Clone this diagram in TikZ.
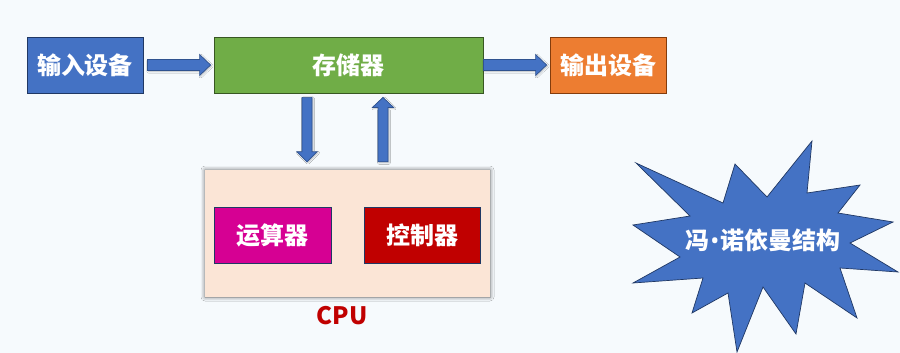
\documentclass[tikz,border=0pt]{standalone}
\usepackage{fontspec}
\setmainfont{Noto Sans CJK SC}
\newfontfamily\latinfont{Noto Sans}
\usetikzlibrary{calc,shadows.blur}
\definecolor{bgc}{RGB}{246,250,253}
\definecolor{pblue}{RGB}{68,114,196}
\definecolor{pblueD}{RGB}{47,82,143}
\definecolor{navy}{RGB}{32,56,100}
\definecolor{pgreen}{RGB}{112,173,71}
\definecolor{pgreenD}{RGB}{56,87,35}
\definecolor{porange}{RGB}{237,125,49}
\definecolor{porangeD}{RGB}{132,60,12}
\definecolor{peach}{RGB}{251,229,214}
\definecolor{pmag}{RGB}{214,0,147}
\definecolor{pred}{RGB}{192,0,0}
\tikzset{
  box/.style={draw, line width=0.8pt, minimum width=#1, minimum height=56pt, inner sep=0pt,
    text=white, font=\fontsize{24}{28}\selectfont\bfseries},
  barrow/.style={fill=pblue, draw=pblueD, line width=0.7pt,
    blur shadow={shadow xshift=1pt, shadow yshift=-1pt, shadow blur radius=1.5pt, shadow opacity=25}},
}
\begin{document}
\begin{tikzpicture}[x=1pt,y=-1pt]
\fill[bgc] (0,0) rectangle (900,353);
\useasboundingbox (0,0) rectangle (900,353);

\node[box=116pt, fill=pblue, draw=navy] (in) at (85,65) {输入设备};
\node[box=269pt, fill=pgreen, draw=pgreenD] (mem) at (348.5,65) {存储器};
\node[box=116pt, fill=porange, draw=porangeD] (out) at (608,65) {输出设备};

\node[fill=peach, minimum width=285pt, minimum height=127pt, inner sep=0pt,
  blur shadow={shadow xshift=0pt, shadow yshift=0pt, shadow blur radius=4pt, shadow opacity=60}] (cpu) at (347.5,233.5) {};
\node[box=117pt, fill=pmag, draw=navy] (alu) at (272.5,235) {运算器};
\node[box=116pt, fill=pred, draw=navy] (ctl) at (422,235) {控制器};
\node[text=pred, font=\fontsize{24}{28}\selectfont\bfseries] (cpulabel) at (342,316) {CPU};

% horizontal block arrows
\draw[barrow] let \p1=($(in.east)+(4,0)$), \p2=($(mem.west)+(-3,0)$) in
  (\x1,\y1+5.5pt) -- (\x2-11pt,\y1+5.5pt) -- (\x2-11pt,\y1+10.5pt) -- (\x2,\y1)
  -- (\x2-11pt,\y1-10.5pt) -- (\x2-11pt,\y1-5.5pt) -- (\x1,\y1-5.5pt) -- cycle;
\draw[barrow] let \p1=($(mem.east)+(0,0)$), \p2=($(out.west)+(-3,0)$) in
  (\x1,\y1+5.5pt) -- (\x2-11pt,\y1+5.5pt) -- (\x2-11pt,\y1+10.5pt) -- (\x2,\y1)
  -- (\x2-11pt,\y1-10.5pt) -- (\x2-11pt,\y1-5.5pt) -- (\x1,\y1-5.5pt) -- cycle;

% vertical block arrows
\coordinate (dtail) at ($(mem.south)+(-41.5,4)$);
\coordinate (dtip) at ($(dtail |- cpu.north)+(0,-8)$);
\draw[barrow] let \p1=(dtail), \p2=(dtip) in
  (\x1-5pt,\y1) -- (\x1-5pt,\y2+10pt) -- (\x1-10pt,\y2+10pt) -- (\x1,\y2)
  -- (\x1+10pt,\y2+10pt) -- (\x1+5pt,\y2+10pt) -- (\x1+5pt,\y1) -- cycle;
\coordinate (utip) at ($(mem.south)+(34.5,4)$);
\coordinate (utail) at ($(utip |- cpu.north)+(0,-8)$);
\draw[barrow] let \p1=(utail), \p2=(utip) in
  (\x1-5pt,\y1) -- (\x1-5pt,\y2-10pt) -- (\x1-10.5pt,\y2-10pt) -- (\x1,\y2)
  -- (\x1+10.5pt,\y2-10pt) -- (\x1+5pt,\y2-10pt) -- (\x1+5pt,\y1) -- cycle;

% explosion star
\draw[fill=pblue, draw=navy, line width=0.7pt, line join=miter]
  (636,163) -- (723,203) -- (735,164) -- (767,197) -- (812,141) -- (807,193)
  -- (860,185) -- (838,213) -- (893,222) -- (850,243) -- (898,272) -- (840,268)
  -- (857,318) -- (805,283) -- (796,334) -- (763,287) -- (737,352) -- (728,293)
  -- (692,313) -- (703,278) -- (633,283) -- (680,257) -- (633,225) -- (690,216) -- cycle;
\node[text=white, font=\fontsize{24}{28}\selectfont\bfseries] (starlabel) at (763,240)
  {冯\hspace{1pt}{\latinfont\bfseries •}\hspace{1pt}诺依曼结构};
\end{tikzpicture}
\end{document}
